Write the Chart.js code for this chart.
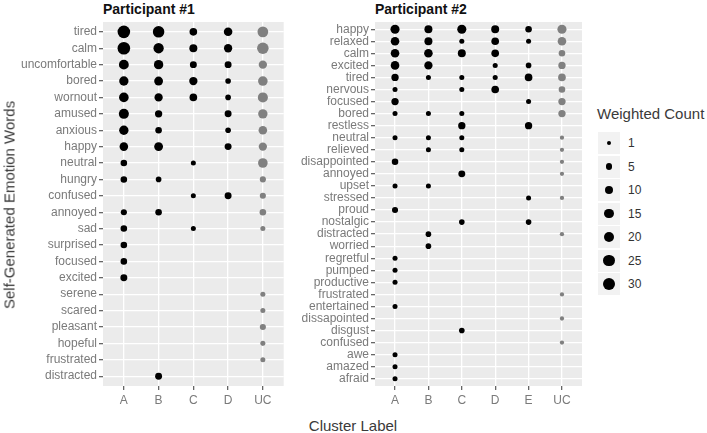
<!DOCTYPE html>
<html>
<head>
<meta charset="utf-8">
<script src="https://cdn.jsdelivr.net/npm/chart.js@4"></script>
<style>
  body { margin: 0; background: #fff; width: 707px; height: 433px; position: relative; overflow: hidden; font-family: "Liberation Sans", Arial, sans-serif; }
  canvas { position: absolute; top: 0; }
  .title { position: absolute; top: 1px; font: bold 14px "Liberation Sans", Arial, sans-serif; color: #111; }
  .axtitle { position: absolute; font-size: 15px; color: #3a3a3a; white-space: nowrap; }
  .key { position: absolute; left: 598px; width: 22px; height: 22px; background: #F2F2F2; }
  .dot { position: absolute; background: #000; border-radius: 50%; }
  .klab { position: absolute; left: 628px; font-size: 12px; color: #333333; }
</style>
</head>
<body>
<div class="title" style="left:103px">Participant #1</div>
<div class="title" style="left:375px">Participant #2</div>
<canvas id="c1" width="290" height="415" style="left:0"></canvas>
<canvas id="c2" width="297" height="415" style="left:290px"></canvas>
<div class="axtitle" style="left:9px; top:205px; transform: translate(-50%,-50%) rotate(-90deg);">Self-Generated Emotion Words</div>
<div class="axtitle" style="left:353px; top:425px; transform: translate(-50%,-50%);">Cluster Label</div>
<div class="axtitle" style="left:597px; top:105px;">Weighted Count</div>
<div id="legend"></div>
<script>
// Participant #1
const p1Words = ['tired', 'calm', 'uncomfortable', 'bored', 'wornout', 'amused', 'anxious', 'happy', 'neutral', 'hungry', 'confused', 'annoyed', 'sad', 'surprised', 'focused', 'excited', 'serene', 'scared', 'pleasant', 'hopeful', 'frustrated', 'distracted'];
const p1Clusters = ['A', 'B', 'C', 'D', 'UC'];
const p1A  = [30, 30, 16, 14, 15, 17, 14, 11, 5, 5, null, 4, 5, 5, 5, 6, null, null, null, null, null, null];
const p1B  = [24, 18, 14, 12, 10, 7, 5, 12, null, 3, null, 5, null, null, null, null, null, null, null, null, null, 6];
const p1C  = [8, 9, 6, 10, 8, null, null, null, 2, null, 2, null, 2, null, null, null, null, null, null, null, null, null];
const p1D  = [11, 10, 6, 3, 3, 6, 3, 6, null, null, 6, null, null, null, null, null, null, null, null, null, null, null];
const p1UC = [20, 24, 10, 15, 17, 14, 11, 10, 15, 4, 4, 5, 2, null, null, null, 2, 2, 4, 2, 2, null];

// Participant #2
const p2Words = ['happy', 'relaxed', 'calm', 'excited', 'tired', 'nervous', 'focused', 'bored', 'restless', 'neutral', 'relieved', 'disappointed', 'annoyed', 'upset', 'stressed', 'proud', 'nostalgic', 'distracted', 'worried', 'regretful', 'pumped', 'productive', 'frustrated', 'entertained', 'dissapointed', 'disgust', 'confused', 'awe', 'amazed', 'afraid'];
const p2Clusters = ['A', 'B', 'C', 'D', 'E', 'UC'];
const p2A  = [13, 11, 11, 11, 7, 2, 7, 2, null, 2, null, 5, null, 2, null, 4, null, null, null, 2, 2, 2, null, 2, null, null, null, 2, 2, 2];
const p2B  = [9, 9, 11, 10, 2, null, null, 2, null, 2, 2, null, null, 2, null, null, null, 3, 3, null, null, null, null, null, null, null, null, null, null, null];
const p2C  = [13, 2, 9, null, 2, 2, null, 2, 7, 2, 2, null, 6, null, null, null, 3, null, null, null, null, null, null, null, null, 3, null, null, null, null];
const p2D  = [9, 8, 8, 2, 2, 8, null, null, null, null, null, null, null, null, null, null, null, null, null, null, null, null, null, null, null, null, null, null, null, null];
const p2E  = [5, 2, null, 3, 8, null, 2, null, 7, null, null, null, null, null, 2, null, 3, null, null, null, null, null, null, null, null, null, null, null, null, null];
const p2UC = [13, 11, 5, 7, 8, 5, 7, 7, null, 1, 1, 1, 1, null, 1, null, null, 1, null, null, null, null, 1, null, 1, null, 1, null, null, null];

const legendValues = [1, 5, 10, 15, 20, 25, 30];

const BLACK = '#000000';
const GRAY = '#808080';

function sizeOf(v) {
  return 1.2 + 0.93 * Math.sqrt(v);
}

function buildDatasets(clusters, series) {
  return clusters.map((c, ci) => ({
    label: c,
    data: series[ci]
      .map((v, wi) => (v == null ? null : { x: ci, y: wi, r: sizeOf(v) }))
      .filter(Boolean),
    backgroundColor: c === 'UC' ? GRAY : BLACK,
    borderWidth: 0,
    hoverRadius: 0
  }));
}

const panelBg = {
  id: 'panelBg',
  beforeDraw(chart) {
    const { ctx, chartArea: a } = chart;
    ctx.save();
    ctx.fillStyle = '#EBEBEB';
    ctx.fillRect(a.left, a.top, a.width, a.height);
    ctx.restore();
  }
};

function makeChart(id, clusters, words, series, yWidth) {
  const tickFont = { family: '"Liberation Sans", Arial, sans-serif', size: 12 };
  new Chart(document.getElementById(id), {
    type: 'bubble',
    data: { datasets: buildDatasets(clusters, series) },
    plugins: [panelBg],
    options: {
      responsive: false,
      animation: false,
      events: [],
      layout: { padding: { top: 22, right: 5, left: 0, bottom: 0 } },
      plugins: { legend: { display: false }, tooltip: { enabled: false } },
      scales: {
        x: {
          type: 'linear',
          min: -0.6,
          max: clusters.length - 0.4,
          afterBuildTicks: (s) => { s.ticks = clusters.map((_, i) => ({ value: i })); },
          afterFit: (s) => { s.height = 29; },
          grid: { color: '#FFFFFF', lineWidth: 1.3, tickColor: '#666666', tickLength: 4 },
          border: { display: false },
          ticks: { autoSkip: false, maxRotation: 0, padding: 3, color: '#7a7a7a', font: tickFont,
                   callback: (v) => clusters[Math.round(v)] }
        },
        y: {
          type: 'linear',
          reverse: true,
          min: -0.6,
          max: words.length - 0.4,
          afterBuildTicks: (s) => { s.ticks = words.map((_, i) => ({ value: i })); },
          afterFit: (s) => { s.width = yWidth; },
          grid: { color: '#FFFFFF', lineWidth: 1.3, tickColor: '#666666', tickLength: 4 },
          border: { display: false },
          ticks: { autoSkip: false, padding: 2, color: '#7a7a7a', font: tickFont,
                   callback: (v) => words[Math.round(v)] }
        }
      }
    }
  });
}

makeChart('c1', p1Clusters, p1Words, [p1A, p1B, p1C, p1D, p1UC], 103);
makeChart('c2', p2Clusters, p2Words, [p2A, p2B, p2C, p2D, p2E, p2UC], 85);

// size legend
const legend = document.getElementById('legend');
legendValues.forEach((v, i) => {
  const cy = 143 + i * 23.5;
  const r = sizeOf(v);
  legend.insertAdjacentHTML('beforeend',
    `<div class="key" style="top:${cy - 11}px"></div>` +
    `<div class="dot" style="left:${609 - r}px; top:${cy - r}px; width:${2 * r}px; height:${2 * r}px"></div>` +
    `<div class="klab" style="top:${cy - 7}px">${v}</div>`);
});
</script>
</body>
</html>
